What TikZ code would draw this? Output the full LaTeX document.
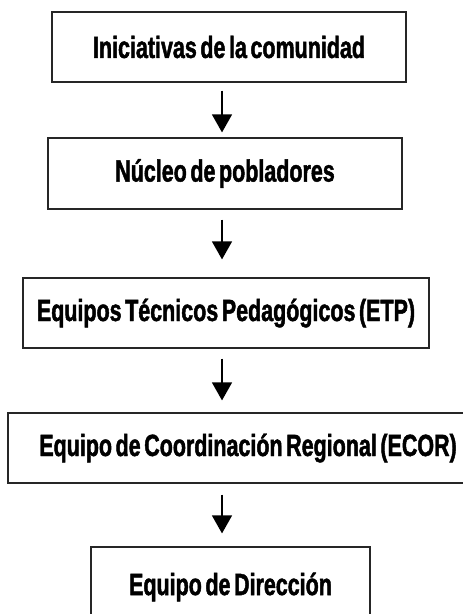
\documentclass[tikz,border=0pt]{standalone}
\usepackage{fontspec}
\setmainfont{Liberation Sans}[FakeStretch=0.7,WordSpace=0.6,BoldFeatures={FakeBold=1.5}]
\usetikzlibrary{arrows.meta}
\begin{document}
\begin{tikzpicture}[x=0.75pt,y=-0.75pt,
  box/.style={draw=black!85,line width=0.9pt,inner sep=0pt,align=center,
    font=\fontsize{23}{27}\selectfont\bfseries},
  arr/.style={line width=1pt,-{Triangle[width=15pt,length=13.5pt]}}]
\useasboundingbox (0,0) rectangle (463,614);
\coordinate (ax) at (222,0);
\node[box,minimum width=265.5pt,minimum height=52.5pt] (b1) at (229,47) {Iniciativas de la comunidad};
\node[box,minimum width=265.5pt,minimum height=53.25pt] (b2) at (225,173.5) {Núcleo de pobladores};
\node[box,minimum width=304.5pt,minimum height=52.5pt] (b3) at (226,313) {Equipos Técnicos Pedagógicos (ETP)};
\node[box,minimum width=360pt,minimum height=52.5pt] (b4) at (248,448) {Equipo de Coordinación Regional (ECOR)};
\node[box,minimum width=209.25pt,minimum height=60pt] (b5) at (230.5,587) {Equipo de Dirección};
\draw[arr,shorten <=6pt,shorten >=3.75pt] (b1.south -| ax) -- (b2.north -| ax);
\draw[arr,shorten <=7.5pt,shorten >=13.5pt] (b2.south -| ax) -- (b3.north -| ax);
\draw[arr,shorten <=7.5pt,shorten >=9pt] (b3.south -| ax) -- (b4.north -| ax);
\draw[arr,shorten <=8.25pt,shorten >=9.75pt] (b4.south -| ax) -- (b5.north -| ax);
\end{tikzpicture}
\end{document}
